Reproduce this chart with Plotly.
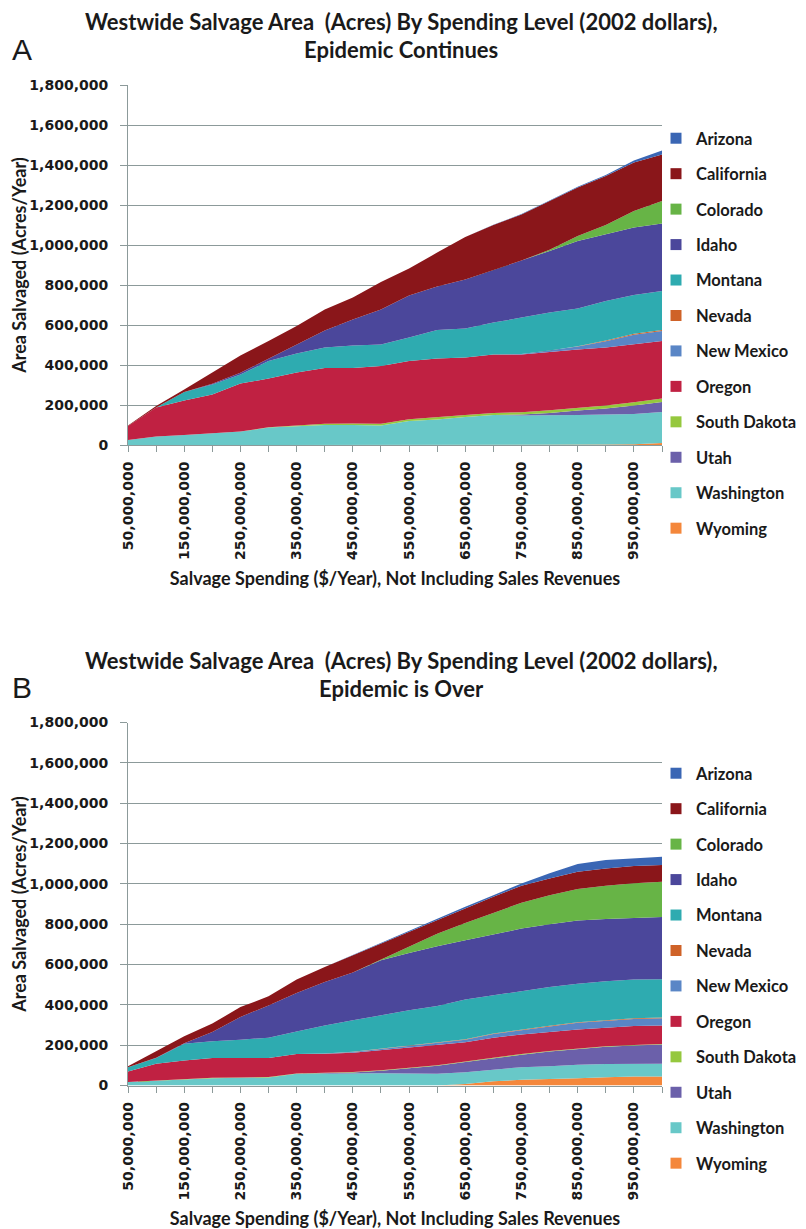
import plotly.graph_objects as go

spending = [50e6, 100e6, 150e6, 200e6, 250e6, 300e6, 350e6, 400e6, 450e6, 500e6,
            550e6, 600e6, 650e6, 700e6, 750e6, 800e6, 850e6, 900e6, 950e6, 1000e6]
tick_labels = ["50,000,000", "", "150,000,000", "", "250,000,000", "", "350,000,000", "",
               "450,000,000", "", "550,000,000", "", "650,000,000", "", "750,000,000", "",
               "850,000,000", "", "950,000,000", ""]

states = ["Wyoming", "Washington", "Utah", "South Dakota", "Oregon", "New Mexico",
          "Nevada", "Montana", "Idaho", "Colorado", "California", "Arizona"]
colors = {
    "Arizona": "#3a66b4", "California": "#8a161a", "Colorado": "#67b446",
    "Idaho": "#4b479b", "Montana": "#2eabb0", "Nevada": "#cf6228",
    "New Mexico": "#5a86c6", "Oregon": "#c02142", "South Dakota": "#95c83e",
    "Utah": "#6b60aa", "Washington": "#68c8c8", "Wyoming": "#f4873b",
}

# Panel A: Epidemic continues (acres/year)
a_wyoming = [0, 0, 0, 0, 0, 0, 0, 0, 0, 0, 0, 0, 0, 0, 0, 0, 1000, 2000, 4000, 10000]
a_washington = [25000, 42000, 50000, 58000, 67000, 87000, 93000, 100000, 100000, 97000,
                120000, 128000, 140000, 150000, 148000, 148000, 149000, 150000, 151000, 155000]
a_utah = [0, 0, 0, 0, 0, 0, 0, 0, 0, 0, 0, 0, 0, 0, 4000, 12000, 22000, 30000, 42000, 50000]
a_south_dakota = [0, 0, 0, 0, 0, 2000, 4000, 6000, 8000, 9000,
                  9000, 10000, 10000, 10000, 12000, 14000, 14000, 15000, 17000, 18000]
a_oregon = [70000, 145000, 173000, 195000, 240000, 243000, 265000, 279000, 277000, 289000,
            291000, 295000, 288000, 292000, 288000, 291000, 292000, 290000, 289000, 287000]
a_new_mexico = [0, 0, 0, 0, 0, 0, 0, 0, 0, 0, 0, 0, 0, 1000, 3000, 7000, 14000, 32000, 48000, 50000]
a_nevada = [0, 0, 0, 0, 0, 0, 0, 0, 0, 0, 0, 0, 0, 0, 0, 0, 2000, 4000, 5000, 5000]
a_montana = [0, 0, 42000, 50000, 46000, 88000, 95000, 102000, 113000, 108000,
             117000, 142000, 145000, 159000, 182000, 190000, 188000, 197000, 194000, 195000]
a_idaho = [0, 0, 0, 3000, 8000, 13000, 46000, 86000, 130000, 175000,
           211000, 217000, 245000, 263000, 283000, 308000, 338000, 333000, 337000, 338000]
a_colorado = [0, 0, 0, 0, 0, 0, 0, 0, 0, 0, 0, 0, 0, 0, 2000, 6000, 25000, 47000, 83000, 112000]
a_california = [3000, 8000, 13000, 56000, 87000, 87000, 92000, 105000, 109000, 137000,
                134000, 170000, 212000, 225000, 231000, 244000, 242000, 245000, 242000, 233000]
a_arizona = [0, 0, 0, 0, 0, 0, 0, 0, 0, 0, 0, 0, 0, 1000, 2000, 3000, 4000, 5000, 11000, 20000]

# Panel B: Epidemic is over (acres/year)
b_wyoming = [0, 0, 0, 0, 0, 0, 0, 0, 0, 0, 0, 0, 8000, 21000, 28000, 31000, 36000, 41000, 45000, 45000]
b_washington = [17000, 25000, 30000, 36000, 38000, 40000, 58000, 60000, 61000, 61000,
                60000, 58000, 58000, 57000, 63000, 65000, 67000, 65000, 63000, 63000]
b_utah = [0, 0, 0, 0, 0, 0, 0, 0, 4000, 12000, 24000, 40000, 50000, 58000, 62000, 72000, 78000, 86000, 90000, 95000]
b_south_dakota = [0, 0, 2000, 2000, 2000, 2000, 2000, 2000, 2000, 3000,
                  3000, 3000, 3000, 3000, 3000, 3000, 3000, 3000, 3000, 3000]
b_oregon = [53000, 83000, 92000, 98000, 96000, 94000, 96000, 95000, 95000, 99000,
            100000, 98000, 96000, 98000, 97000, 94000, 94000, 91000, 94000, 92000]
b_new_mexico = [0, 0, 0, 0, 0, 0, 0, 2000, 4000, 6000, 7000, 10000, 12000, 18000, 22000, 28000, 33000, 35000, 35000, 36000]
b_nevada = [0, 0, 0, 0, 0, 0, 0, 0, 1000, 1000, 2000, 2000, 2000, 3000, 3000, 3000, 3000, 3000, 3000, 3000]
b_montana = [21000, 28000, 83000, 84000, 91000, 101000, 112000, 139000, 156000, 166000,
             177000, 183000, 197000, 189000, 191000, 193000, 191000, 193000, 192000, 190000]
b_idaho = [0, 2000, 3000, 45000, 113000, 160000, 191000, 215000, 237000, 273000,
           284000, 297000, 294000, 303000, 309000, 311000, 313000, 308000, 306000, 309000]
b_colorado = [0, 0, 0, 0, 0, 0, 0, 0, 0, 3000, 28000, 62000, 86000, 106000, 128000, 144000, 156000, 165000, 172000, 174000]
b_california = [5000, 30000, 34000, 42000, 49000, 45000, 66000, 75000, 86000, 83000,
                77000, 70000, 72000, 80000, 84000, 83000, 86000, 86000, 85000, 83000]
b_arizona = [0, 0, 0, 0, 0, 0, 0, 0, 2000, 3000, 4000, 5000, 8000, 8000, 12000, 25000, 38000, 42000, 38000, 41000]

panel_a = [a_wyoming, a_washington, a_utah, a_south_dakota, a_oregon, a_new_mexico,
           a_nevada, a_montana, a_idaho, a_colorado, a_california, a_arizona]
panel_b = [b_wyoming, b_washington, b_utah, b_south_dakota, b_oregon, b_new_mexico,
           b_nevada, b_montana, b_idaho, b_colorado, b_california, b_arizona]

titles = [("Westwide Salvage Area  (Acres) By Spending Level (2002 dollars),", "Epidemic Continues"),
          ("Westwide Salvage Area  (Acres) By Spending Level (2002 dollars),", "Epidemic is Over")]
panel_letters = ["A", "B"]
x_title = "Salvage Spending ($/Year), Not Including Sales Revenues"
y_title = "Area Salvaged (Acres/Year)"

# page has an 8px body margin: lay out in reference pixels minus that offset
OFF = 8
W, H = 806 - OFF, 1229 - OFF
ML = 128 - OFF
MR = 806 - 662
fig = go.Figure()

panels = [panel_a, panel_b]
axis_ids = [("x", "y"), ("x2", "y2")]
legend_ids = ["legend", "legend2"]
for p, data in enumerate(panels):
    xa, ya = axis_ids[p]
    for name, vals in zip(states, data):
        fig.add_trace(go.Scatter(
            x=spending, y=vals, name=name, xaxis=xa, yaxis=ya,
            stackgroup="s%d" % p, mode="lines", line=dict(width=0, color=colors[name]),
            fillcolor=colors[name], showlegend=False, legendgroup="%s%d" % (name, p),
            hoverinfo="x+y+name"))
    for name in reversed(states):
        fig.add_trace(go.Scatter(
            x=[None], y=[None], name=name, xaxis=xa, yaxis=ya, mode="markers",
            marker=dict(symbol="square", size=11, color=colors[name]),
            legend=legend_ids[p], legendgroup="%s%d" % (name, p), showlegend=True))

def py(px):
    return 1 - (px - OFF) / H

def pxx(px):
    return (px - OFF - ML) / (W - ML - MR)

tick_font = dict(family="DejaVu Sans", size=14, color="#1a1a1a", weight="bold")
xtitle_font = dict(family="Lato", size=18, color="#1a1a1a", weight="bold")
ytitle_font = dict(family="Lato", size=18, color="#1a1a1a", weight="bold")
gray = "#8c9a9a"

domains = [(445, 85), (1085.5, 722.5)]
layout = {}
for p in range(2):
    bot, top = domains[p]
    xk = "xaxis" if p == 0 else "xaxis2"
    yk = "yaxis" if p == 0 else "yaxis2"
    layout[xk] = dict(
        domain=[0, 1], anchor="y" if p == 0 else "y2", range=[spending[0], spending[-1]],
        tickmode="array", tickvals=spending, ticktext=tick_labels, tickangle=-90,
        ticks="outside", ticklen=6, tickcolor=gray, showline=True, linecolor=gray,
        showgrid=False, zeroline=False, tickfont=tick_font, ticklabelstandoff=4,
        title=dict(text=x_title, font=xtitle_font, standoff=13), automargin=False)
    layout[yk] = dict(
        domain=[py(bot), py(top)], anchor="x" if p == 0 else "x2", range=[0, 1800000],
        dtick=200000, tickformat=",d", ticks="outside", ticklen=7, tickcolor=gray,
        showline=True, linecolor=gray, gridcolor=gray, gridwidth=1, zeroline=False,
        tickfont=tick_font, ticklabelstandoff=9,
        title=dict(text=y_title, font=ytitle_font, standoff=7), automargin=False)

annotations = []
title_rows = [(22, 50), (660, 688)]
letter_rows = [50, 687]
for p in range(2):
    for line, yy in zip(titles[p], title_rows[p]):
        annotations.append(dict(
            text=line, xref="paper", yref="paper", x=pxx(401), y=py(yy), xanchor="center",
            yanchor="middle", showarrow=False,
            font=dict(family="Lato", size=22, color="#1a1a1a", weight="bold")))
    annotations.append(dict(
        text=panel_letters[p], xref="paper", yref="paper", x=pxx(10), y=py(letter_rows[p]),
        xanchor="left", yanchor="middle", showarrow=False,
        font=dict(family="Liberation Sans", size=30, color="#1a1a1a")))

legend_font = dict(family="Lato", size=16.5, color="#1a1a1a", weight="bold")
legend_tops = [121, 756]
for p in range(2):
    key = legend_ids[p]
    layout[key] = dict(
        x=pxx(656), y=py(legend_tops[p]), xanchor="left", yanchor="top",
        font=legend_font, tracegroupgap=11, traceorder="grouped",
        bgcolor="rgba(0,0,0,0)", itemclick=False, itemdoubleclick=False)

fig.update_layout(
    width=W, height=H, margin=dict(l=ML, r=MR, t=0, b=0),
    paper_bgcolor="white", plot_bgcolor="white", annotations=annotations,
    **layout)

fig.write_html("out.html")
